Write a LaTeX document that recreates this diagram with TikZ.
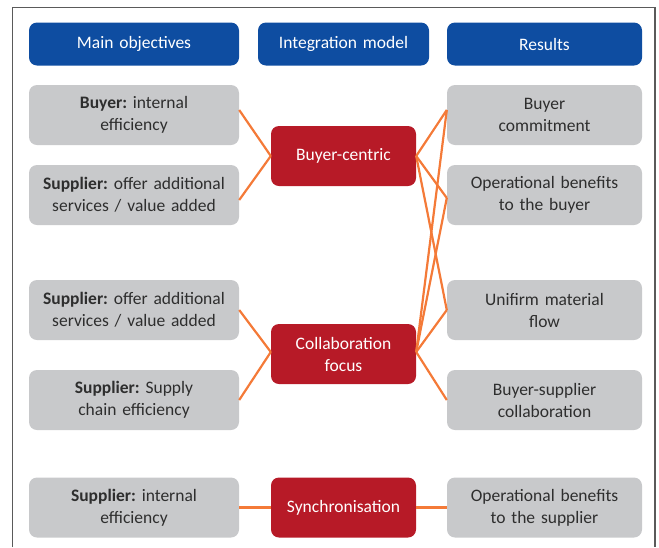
\documentclass[tikz,border=0pt]{standalone}
\usepackage{fontspec}
\setmainfont{Carlito}
\definecolor{hdrblue}{HTML}{0E4DA1}
\definecolor{boxred}{HTML}{B71A27}
\definecolor{boxgray}{HTML}{C8C9CB}
\definecolor{linkorange}{HTML}{F47A38}
\definecolor{txtdark}{HTML}{2E2E2E}
\definecolor{framegray}{HTML}{5A5A5A}
\frenchspacing
\begin{document}
\begin{tikzpicture}[x=1pt,y=-1pt,
  base/.style={rectangle, rounded corners=8pt, inner sep=0pt, align=center,
    font=\fontsize{17.5}{22}\selectfont},
  hdr/.style={base, fill=hdrblue, text=white, minimum height=43pt},
  obj/.style={base, fill=boxgray, text=txtdark, minimum height=60pt, text width=210pt},
  res/.style={base, fill=boxgray, text=txtdark, minimum height=60pt, text width=195pt},
  mdl/.style={base, fill=boxred, text=white, minimum height=60pt, text width=145pt},
  link/.style={draw=linkorange, line width=2.2pt}]
\useasboundingbox (0,0) rectangle (659,547);
\draw[framegray, line width=1.4pt] (12.5,547) -- (12.5,7.5) -- (655,7.5) -- (655,547);

% headers
\node[hdr, text width=210pt] (h1) at (134,44) {Main objectives};
\node[hdr, text width=171pt] (h2) at (343.5,44) {Integration model};
\node[hdr, text width=195pt] (h3) at (544.5,44) {Results};

% objectives
\node[obj] (l1) at (134,115) {\textbf{Buyer:} internal\\efficiency};
\node[obj] (l2) at (134,195) {\textbf{Supplier:} offer additional\\services / value added};
\node[obj] (l3) at (134,310) {\textbf{Supplier:} offer additional\\services / value added};
\node[obj] (l4) at (134,400) {\textbf{Supplier:} Supply\\chain efficiency};
\node[obj] (l5) at (134,507.5) {\textbf{Supplier:} internal\\efficiency};

% models
\node[mdl] (bc) at (343.5,156) {Buyer-centric};
\node[mdl] (cf) at (343.5,354) {Collaboration\\focus};
\node[mdl] (sy) at (343.5,507.5) {Synchronisation};

% results
\node[res] (r1) at (544.5,115) {Buyer\\commitment};
\node[res] (r2) at (544.5,195) {Operational benefits\\to the buyer};
\node[res] (r3) at (544.5,310) {Unifirm material\\flow};
\node[res] (r4) at (544.5,400) {Buyer-supplier\\collaboration};
\node[res] (r5) at (544.5,507.5) {Operational benefits\\to the supplier};

% links
\draw[link] ([yshift=5pt]l1.east) -- (bc.west);
\draw[link] ([yshift=-5pt]l2.east) -- (bc.west);
\draw[link] (bc.east) -- ([yshift=5pt]r1.west);
\draw[link] (bc.east) -- ([yshift=-3pt]r2.west);
\draw[link] (bc.east) -- (r3.west);
\draw[link] (l3.east) -- ([yshift=2pt]cf.west);
\draw[link] (l4.east) -- ([yshift=2pt]cf.west);
\draw[link] ([yshift=2pt]cf.east) -- ([yshift=5pt]r1.west);
\draw[link] ([yshift=2pt]cf.east) -- ([yshift=-3pt]r2.west);
\draw[link] ([yshift=2pt]cf.east) -- (r3.west);
\draw[link] ([yshift=2pt]cf.east) -- (r4.west);
\draw[link] (l5.east) -- (sy.west);
\draw[link] (sy.east) -- (r5.west);
\end{tikzpicture}
\end{document}
